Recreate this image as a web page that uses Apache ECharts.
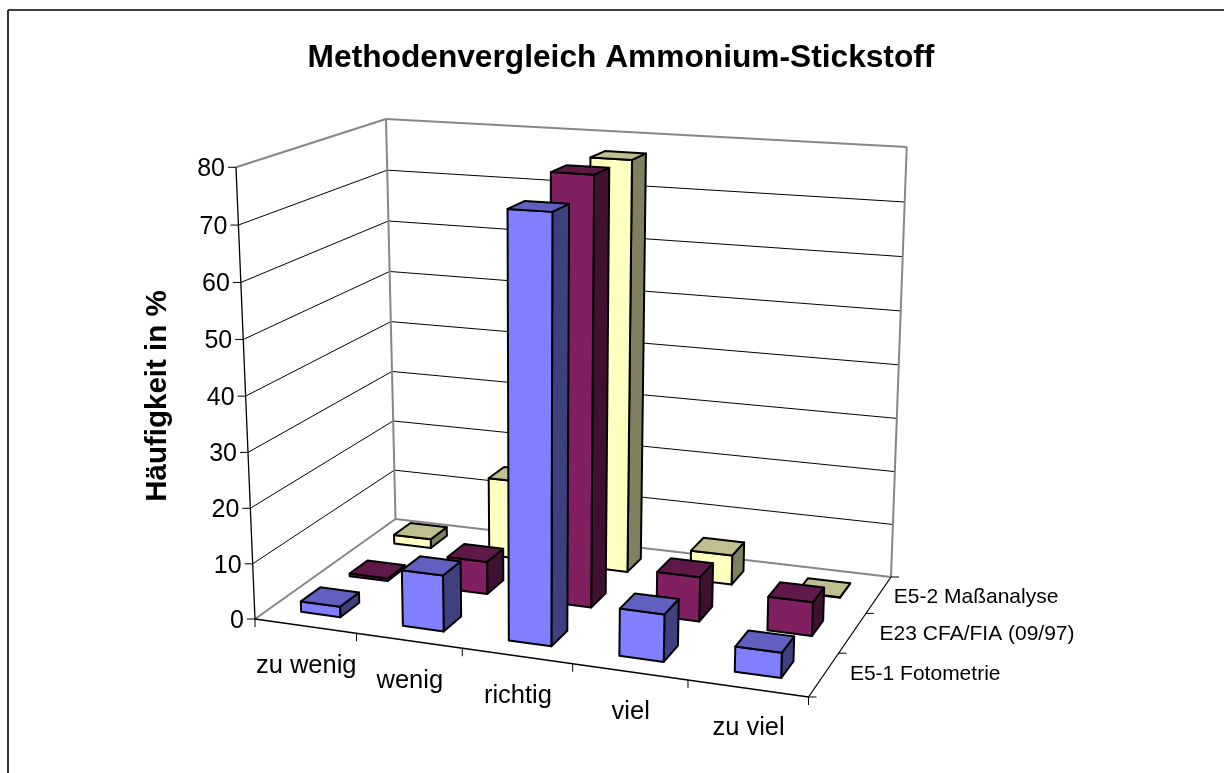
<!DOCTYPE html>
<html><head><meta charset="utf-8">
<style>html,body{margin:0;padding:0;background:#fff}#c{width:1224px;height:773px}</style>
<script src="https://cdn.jsdelivr.net/npm/echarts@6/dist/echarts.min.js"></script>
</head><body><div id="c"></div>
<script>
// ---- data ----
const categories = ['zu wenig', 'wenig', 'richtig', 'viel', 'zu viel'];
const seriesNames = ['E5-1 Fotometrie', 'E23 CFA/FIA (09/97)', 'E5-2 Maßanalyse'];
const fotometrie = [1.9, 10, 74.7, 8.2, 4.3];
const cfaFia = [0.5, 6, 77.7, 8, 6];
const massanalyse = [1.7, 15, 77.2, 5.5, 0.1];
const valueTicks = [0, 10, 20, 30, 40, 50, 60, 70, 80];

// ---- styling / projection layout ----
const FONT = 'Liberation Sans, Arial, sans-serif';
const seriesFaces = [
  { front: '#8080FF', top: '#6060C0', side: '#404080' },
  { front: '#802060', top: '#601848', side: '#401030' },
  { front: '#FFFFC0', top: '#BFBF90', side: '#808060' }
];
const floorQuad = [[255, 619], [808.5, 697], [891, 577], [395.5, 519]];
const ceilQuad = [[236, 167.3], [822, 204], [906.7, 147], [386, 119]];
const HEIGHT_W = 0.974;
const BAR = 0.39;
const seriesLabelDx = [26, 27, 15];
const gridBox = { left: 100, top: 100, width: 500, height: 500 };

function squareToQuad(q) {
  const [p0, p1, p2, p3] = q;
  const dx1 = p1[0] - p2[0], dx2 = p3[0] - p2[0], sx = p0[0] - p1[0] + p2[0] - p3[0];
  const dy1 = p1[1] - p2[1], dy2 = p3[1] - p2[1], sy = p0[1] - p1[1] + p2[1] - p3[1];
  const den = dx1 * dy2 - dx2 * dy1;
  const g = (sx * dy2 - dx2 * sy) / den, hh = (dx1 * sy - sx * dy1) / den;
  const a = p1[0] - p0[0] + g * p1[0], b = p3[0] - p0[0] + hh * p3[0], c = p0[0];
  const d = p1[1] - p0[1] + g * p1[1], e = p3[1] - p0[1] + hh * p3[1], f = p0[1];
  return (x, y) => {
    const w = g * x + hh * y + 1;
    return [(a * x + b * y + c) / w, (d * x + e * y + f) / w];
  };
}
const floorMap = squareToQuad(floorQuad);
const ceilMap = squareToQuad(ceilQuad);
const P = (x, y, z) => {
  const lo = floorMap(x, y), hi = ceilMap(x, y);
  const t = z * HEIGHT_W / (1 - z + z * HEIGHT_W);
  return [lo[0] + (hi[0] - lo[0]) * t, lo[1] + (hi[1] - lo[1]) * t];
};

const poly = (points, fill) => ({
  type: 'polygon', shape: { points },
  style: { fill, stroke: '#000', lineWidth: 2, lineJoin: 'round' }
});
const line = (p, q, stroke, lineWidth) => ({
  type: 'line', shape: { x1: p[0], y1: p[1], x2: q[0], y2: q[1] },
  style: { stroke, lineWidth }
});
const label = (text, x, y, size, align, weight) => ({
  type: 'text',
  style: { text, x, y, fill: '#000', font: `${weight || 'normal'} ${size}px ${FONT}`, textAlign: align, textVerticalAlign: 'middle' }
});

function renderBar(depthIndex) {
  return function (params, api) {
    const cs = params.coordSys;
    const pt = api.coord([api.value(0), api.value(1)]);
    const xc = (pt[0] - cs.x) / cs.width;
    const z = (cs.y + cs.height - pt[1]) / cs.height;
    const hw = BAR / categories.length / 2;
    const hd = BAR / seriesNames.length / 2;
    const yc = (depthIndex + 0.5) / seriesNames.length;
    const x0 = xc - hw, x1 = xc + hw, y0 = yc - hd, y1 = yc + hd;
    const f = seriesFaces[depthIndex];
    return {
      type: 'group',
      children: [
        poly([P(x1, y0, 0), P(x1, y1, 0), P(x1, y1, z), P(x1, y0, z)], f.side),
        poly([P(x0, y0, 0), P(x1, y0, 0), P(x1, y0, z), P(x0, y0, z)], f.front),
        poly([P(x0, y0, z), P(x1, y0, z), P(x1, y1, z), P(x0, y1, z)], f.top)
      ]
    };
  };
}

function renderFrame(params, api) {
  const cs = params.coordSys;
  const maxV = valueTicks[valueTicks.length - 1];
  const GRAY = '#868686';
  const c = [];
  valueTicks.forEach(v => {
    const pt = api.coord([0, v]);
    const z = (cs.y + cs.height - pt[1]) / cs.height;
    if (v !== 0 && v !== maxV) {
      c.push(line(P(0, 0, z), P(0, 1, z), '#000', 1));
      c.push(line(P(0, 1, z), P(1, 1, z), '#000', 1));
    }
    const a = P(0, 0, z);
    c.push(line([a[0] - 8, a[1]], a, '#000', 1));
    c.push(label(String(v), a[0] - 11, a[1] + 2, 25, 'right'));
  });
  // walls' outline
  c.push(line(P(0, 0, 0), P(0, 1, 0), GRAY, 2));
  c.push(line(P(0, 1, 0), P(1, 1, 0), GRAY, 2));
  c.push(line(P(0, 1, 0), P(0, 1, 1), GRAY, 2));
  c.push(line(P(1, 1, 0), P(1, 1, 1), GRAY, 2));
  c.push(line(P(0, 0, 1), P(0, 1, 1), GRAY, 2));
  c.push(line(P(0, 1, 1), P(1, 1, 1), GRAY, 2));
  // axes
  c.push(line(P(0, 0, 0), P(0, 0, 1), '#000', 1.3));
  c.push(line(P(0, 0, 0), P(1, 0, 0), '#000', 1.3));
  c.push(line(P(1, 0, 0), P(1, 1, 0), '#000', 1.3));
  const n = categories.length, m = seriesNames.length;
  for (let i = 0; i <= n; i++) {
    const a = P(i / n, 0, 0);
    c.push(line(a, [a[0], a[1] + 8], '#000', 1));
  }
  for (let j = 0; j <= m; j++) {
    const a = P(1, j / m, 0);
    c.push(line(a, [a[0] + 8, a[1]], '#000', 1));
  }
  categories.forEach((t, i) => {
    const a = P((i + 0.5) / n, 0, 0);
    c.push(label(t, a[0] + 1, a[1] + 40, 25.5, 'center'));
  });
  seriesNames.forEach((t, j) => {
    const a = P(1, (j + 0.5) / m, 0);
    c.push(label(t, a[0] + seriesLabelDx[j], a[1] + j, 21, 'left'));
  });
  return { type: 'group', children: c };
}

const barSeries = (i, values) => ({
  name: seriesNames[i],
  type: 'custom',
  coordinateSystem: 'cartesian2d',
  clip: false,
  renderItem: renderBar(i),
  encode: { x: 0, y: 1 },
  data: values.map((v, k) => [k, v]),
  z: 10 - i
});

const chart = echarts.init(document.getElementById('c'), null, { renderer: 'canvas' });
chart.setOption({
  animation: false,
  backgroundColor: '#fff',
  title: {
    text: 'Methodenvergleich Ammonium-Stickstoff',
    left: 616, top: 37, textAlign: 'center',
    textStyle: { fontFamily: FONT, fontWeight: 'bold', fontSize: 31.7, color: '#000' }
  },
  grid: Object.assign({ containLabel: false }, gridBox),
  xAxis: { type: 'category', data: categories, show: false },
  yAxis: { type: 'value', min: 0, max: 80, interval: 10, show: false },
  graphic: [
    { type: 'line', shape: { x1: 8, y1: 10, x2: 1224, y2: 10 }, style: { stroke: '#000', lineWidth: 1.4 }, silent: true },
    { type: 'line', shape: { x1: 8, y1: 10, x2: 8, y2: 773 }, style: { stroke: '#333', lineWidth: 2 }, silent: true },
    { type: 'text', x: 158, y: 396, rotation: Math.PI / 2, originX: 0, originY: 0,
      style: { text: 'Häufigkeit in %', font: `bold 29.5px ${FONT}`, fill: '#000', textAlign: 'center', textVerticalAlign: 'middle' }, silent: true }
  ],
  series: [
    { name: 'frame', type: 'custom', coordinateSystem: 'cartesian2d', clip: false, renderItem: renderFrame, data: [[0, 0]], z: 1, silent: true },
    barSeries(2, massanalyse),
    barSeries(1, cfaFia),
    barSeries(0, fotometrie)
  ]
});
</script></body></html>
